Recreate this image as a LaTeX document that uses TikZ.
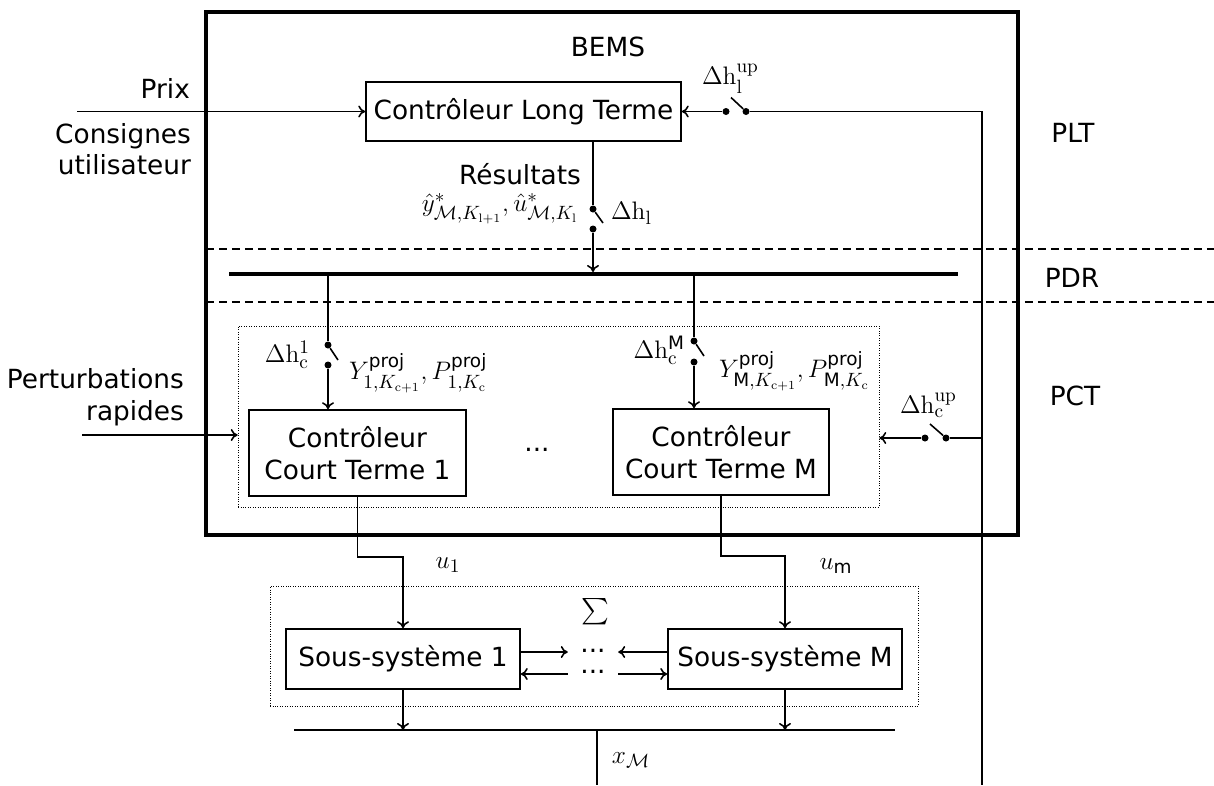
\documentclass[tikz,border=0pt]{standalone}
\usepackage[no-math]{fontspec}
\setmainfont{DejaVu Sans}
\usepackage{amsmath}
\usepackage{amssymb}
\usetikzlibrary{arrows,arrows.meta,backgrounds,calc,positioning}

\tikzset{
  trait/.style={line width=0.9pt},
  bloc/.style={draw, trait, inner sep=0pt},
  groupe/.style={draw, densely dotted, thin, inner sep=0pt},
  niveau/.style={dash pattern=on 0.16cm off 0.1cm, line width=0.055cm},
  contact/.style={circle, fill, inner sep=0pt, minimum size=0.14cm},
  lien/.style={trait, -{To[length=1.4mm,width=2.4mm]}},
  etiq/.style={inner sep=1pt},
}

\begin{document}
\begin{tikzpicture}[x=0.02cm, y=-0.02cm, font=\fontsize{15}{18}\selectfont]
\useasboundingbox (0,0) rectangle (1214,785);

% BEMS
\node[draw, line width=0.08cm, minimum width=16.24cm, minimum height=10.46cm] (bems) at (612,273.5) {};
\node[etiq] (bemstitre) at (608,47) {BEMS};

% niveaux
\draw[niveau] (206,249) -- (1214,249);
\draw[niveau] (206,302) -- (1214,302);
\node[etiq] (plt) at (1073,133) {PLT};
\node[etiq] (pdr) at (1072,278) {PDR};
\node[etiq] (pct) at (1075,396) {PCT};

% controleur long terme
\node[bloc, minimum width=6.3cm, minimum height=1.18cm] (clt) at (523.5,111.5) {Contrôleur Long Terme};
\node[etiq, anchor=east] (prix) at (192,88) {Prix};
\node[etiq, anchor=east, align=right] (consignes) at (193,149) {Consignes\\utilisateur};
\coordinate (prixin) at (77,111.5);
\draw[lien] (prixin) -- (clt.west);

% interrupteur mise a jour long terme
\node[contact] (swluA) at (726,111.5) {};
\node[contact] (swluB) at (746,111.5) {};
\draw[lien] (swluA) -- (clt.east);
\draw[trait] (swluB) -- ++(-15,-14);
\coordinate (coin) at (982,111.5);
\coordinate (basmaj) at (982,785);
\draw[trait] (swluB) -- (coin) -- (basmaj);
\node[etiq, anchor=west] (dhlup) at (700,79) {$\Delta\mathrm{h}_\mathrm{l}^\mathrm{up}$};

% resultats vers le bus
\node[contact] (swlA) at (593,209) {};
\node[contact] (swlB) at (593,229) {};
\draw[trait] (clt.south -| swlA) -- (swlA);
\draw[trait] (swlA) -- ++(10,14);
\coordinate (busL) at (229,274);
\coordinate (busR) at (958,274);
\draw[line width=0.08cm] (busL) -- (busR);
\draw[lien] (swlB) -- ($(swlB |- busL)+(0,-2)$);
\node[etiq] (resultats) at (520,174) {Résultats};
\node[etiq, anchor=east] (yhat) at (580,209) {$\hat{y}^*_{\mathcal{M},K_{\mathrm{l}+1}},\hat{u}^*_{\mathcal{M},K_{\mathrm{l}}}$};
\node[etiq, anchor=west] (dhl) at (609,213) {$\Delta\mathrm{h}_\mathrm{l}$};

% controleurs court terme
\node[groupe, minimum width=12.82cm, minimum height=3.62cm] (gct) at (558.5,416.5) {};
\node[bloc, minimum width=4.34cm, minimum height=1.72cm, align=center] (ct1) at (357.5,453) {Contrôleur\\Court Terme 1};
\node[bloc, minimum width=4.32cm, minimum height=1.72cm, align=center] (ctM) at (721,452) {Contrôleur\\Court Terme M};
\node[etiq] (ctdots) at (537,450) {...};

\node[contact] (sw1A) at (328,345) {};
\node[contact] (sw1B) at (328,365) {};
\draw[trait] (sw1A |- busL) -- (sw1A);
\draw[trait] (sw1A) -- ++(10,15);
\draw[lien] (sw1B) -- (sw1B |- ct1.north);
\node[etiq, anchor=east] (dhc1) at (312,355) {$\Delta\mathrm{h}_\mathrm{c}^1$};
\node[etiq, anchor=west] (proj1) at (347,373) {$Y^\text{proj}_{1,K_{\mathrm{c}+1}},P^\text{proj}_{1,K_\mathrm{c}}$};

\node[contact] (swMA) at (694,341) {};
\node[contact] (swMB) at (694,362) {};
\draw[trait] (swMA |- busL) -- (swMA);
\draw[trait] (swMA) -- ++(10,15);
\draw[lien] (swMB) -- (swMB |- ctM.north);
\node[etiq, anchor=east] (dhcM) at (687,350) {$\Delta\mathrm{h}_\mathrm{c}^\text{M}$};
\node[etiq, anchor=west] (projM) at (717,371) {$Y^\text{proj}_{\text{M},K_{\mathrm{c}+1}},P^\text{proj}_{\text{M},K_\mathrm{c}}$};

\node[etiq, anchor=east, align=right] (perturb) at (186,397) {Perturbations\\rapides};
\coordinate (pertin) at (82,435);
\draw[lien] (pertin) -- (pertin -| gct.west);

% interrupteur mise a jour court terme
\node[contact] (swcuA) at (925,438) {};
\node[contact] (swcuB) at (946,438) {};
\draw[lien] (swcuA) -- (swcuA -| gct.east);
\draw[trait] (swcuB) -- ++(-16,-14);
\draw[trait] (swcuB) -- (swcuB -| coin);
\node[etiq, anchor=west] (dhcup) at (898,405) {$\Delta\mathrm{h}_\mathrm{c}^\mathrm{up}$};

% sous-systemes
\node[groupe, minimum width=12.96cm, minimum height=2.4cm] (gss) at (594,646) {};
\node[etiq] (sigma) at (595,612) {$\sum$};
\node[bloc, minimum width=4.68cm, minimum height=1.2cm] (ss1) at (403,659) {Sous-système 1};
\node[bloc, minimum width=4.68cm, minimum height=1.2cm] (ssM) at (785,659) {Sous-système M};

\draw[lien] (ct1.south) -- ++(0,60) -| (ss1.north);
\draw[lien] (ctM.south) -- ++(0,60) -| (ssM.north);
\node[etiq] (u1) at (448,565) {$u_1$};
\node[etiq] (um) at (836,566) {$u_\text{m}$};

\node[etiq] (dotshaut) at (593,651) {...};
\node[etiq] (dotsbas) at (593,672) {...};
\draw[lien] ($(ss1.east)+(0,-7)$) -- ++(47,0);
\draw[lien] ($(ss1.east)+(47,15)$) -- ++(-47,0);
\draw[lien] ($(ssM.west)+(0,-7)$) -- ++(-49,0);
\draw[lien] ($(ssM.west)+(-49,15)$) -- ++(49,0);

% sortie
\coordinate (sortieG) at (294,730);
\coordinate (sortieD) at (895,730);
\draw[trait] (sortieG) -- (sortieD);
\draw[lien] (ss1.south) -- (ss1.south |- sortieD);
\draw[lien] (ssM.south) -- (ssM.south |- sortieD);
\coordinate (xm) at (597,730);
\draw[trait] (xm) -- (597,785);
\node[etiq] (xmlabel) at (631,760) {$x_\mathcal{M}$};
\end{tikzpicture}
\end{document}
